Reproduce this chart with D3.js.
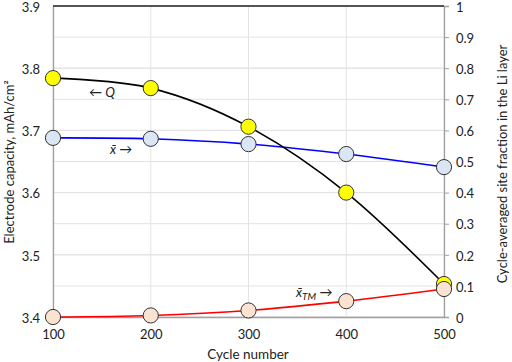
<!DOCTYPE html>
<html><head><meta charset="utf-8">
<script src="https://cdn.jsdelivr.net/npm/d3@7"></script>
<style>body{margin:0;background:#fff}text{font-family:Lato,"Open Sans",sans-serif;fill:#222}</style>
</head><body>
<svg id="c" width="512" height="362"></svg>
<script>
const cycles = [100, 200, 300, 400, 500];
const capacityQ = [3.784, 3.768, 3.706, 3.600, 3.453];
const xBar = [0.576, 0.573, 0.556, 0.524, 0.482];
const xTM = [0.000, 0.005, 0.021, 0.051, 0.090];
const leftTicks = [3.4, 3.5, 3.6, 3.7, 3.8, 3.9];
const rightTicks = [0, 0.1, 0.2, 0.3, 0.4, 0.5, 0.6, 0.7, 0.8, 0.9, 1];

const svg = d3.select("#c");
const L = 53, R = 444, T = 6, B = 317;
const x = d3.scaleLinear().domain([100, 500]).range([L, R]);
const yL = d3.scaleLinear().domain([3.4, 3.9]).range([B, T]);
const yR = d3.scaleLinear().domain([0, 1]).range([B, T]);

// grid
svg.append("g").selectAll("line").data(leftTicks).join("line")
  .attr("x1", L).attr("x2", R).attr("y1", d => yL(d)).attr("y2", d => yL(d))
  .attr("stroke", "#e3e3e3").attr("stroke-width", 1);
svg.append("g").selectAll("line").data(rightTicks).join("line")
  .attr("x1", L).attr("x2", R).attr("y1", d => yR(d)).attr("y2", d => yR(d))
  .attr("stroke", "#e3e3e3").attr("stroke-width", 1);
svg.append("g").selectAll("line").data(cycles).join("line")
  .attr("x1", d => x(d)).attr("x2", d => x(d)).attr("y1", T).attr("y2", B)
  .attr("stroke", "#e3e3e3").attr("stroke-width", 1);

// axes
const gx = svg.append("g").attr("transform", `translate(0,${B})`)
  .call(d3.axisBottom(x).tickValues(cycles).tickSize(0).tickPadding(13).tickFormat(d3.format("d")));
const gl = svg.append("g").attr("transform", `translate(${L},0)`)
  .call(d3.axisLeft(yL).tickValues(leftTicks).tickSize(0).tickPadding(13).tickFormat(d3.format(".1f")));
const gr = svg.append("g").attr("transform", `translate(${R},0)`)
  .call(d3.axisRight(yR).tickValues(rightTicks).tickSize(5).tickPadding(7).tickFormat(d => d === 0 || d === 1 ? d3.format("d")(d) : d3.format(".1f")(d)));
[gx, gl, gr].forEach(g => {
  g.selectAll(".domain").attr("stroke", "#a0a0a0").attr("stroke-width", 1.3);
  g.selectAll(".tick line").attr("stroke", "#a0a0a0");
  g.selectAll("text").attr("font-size", 13).attr("font-family", "Lato,'Open Sans',sans-serif").attr("fill", "#222");
});
gl.selectAll("text").attr("dy", "0.4em");
gr.selectAll("text").attr("dy", "0.4em");
// top border
svg.append("line").attr("x1", L).attr("x2", R).attr("y1", T).attr("y2", T).attr("stroke", "#222").attr("stroke-width", 1.3);

// lines
const curve = d3.curveCardinal.tension(0);
const lineL = d3.line().x((d, i) => x(cycles[i])).y(d => yL(d)).curve(curve);
const lineR = d3.line().x((d, i) => x(cycles[i])).y(d => yR(d)).curve(curve);
svg.append("path").attr("d", lineR(xTM)).attr("fill", "none").attr("stroke", "#ff0000").attr("stroke-width", 1.6);
svg.append("path").attr("d", lineR(xBar)).attr("fill", "none").attr("stroke", "#0000ff").attr("stroke-width", 1.6);
svg.append("path").attr("d", lineL(capacityQ)).attr("fill", "none").attr("stroke", "#000").attr("stroke-width", 1.6);

// markers
function markers(data, y, fill) {
  svg.append("g").selectAll("circle").data(data).join("circle")
    .attr("cx", (d, i) => x(cycles[i])).attr("cy", d => y(d)).attr("r", 7.6)
    .attr("fill", fill).attr("stroke", "#333").attr("stroke-width", 1);
}
markers(capacityQ, yL, "#ffff00");
markers(xBar, yR, "#dae6f4");
markers(xTM, yR, "#fbe3d2");

// annotations
const ann = svg.append("g").attr("font-family", "'DejaVu Serif','Liberation Serif',serif").attr("font-size", 13);
ann.append("text").attr("x", 89).attr("y", 97).html('← <tspan font-style="italic">Q</tspan>');
ann.append("text").attr("x", 110).attr("y", 154).html('<tspan font-style="italic">x̄</tspan> →');
ann.append("text").attr("x", 296).attr("y", 297).html('<tspan font-style="italic">x̄</tspan><tspan font-style="italic" font-size="10" dy="3">TM</tspan><tspan dy="-3"> →</tspan>');

// axis titles
svg.append("text").attr("x", 248).attr("y", 359).attr("text-anchor", "middle").attr("font-size", 13.5).text("Cycle number");
svg.append("text").attr("transform", `translate(14,162) rotate(-90)`).attr("text-anchor", "middle").attr("font-size", 13).text("Electrode capacity, mAh/cm²");
svg.append("text").attr("transform", `translate(507,164) rotate(-90)`).attr("text-anchor", "middle").attr("font-size", 13).text("Cycle-averaged site fraction in the Li layer");
</script>
</body></html>
